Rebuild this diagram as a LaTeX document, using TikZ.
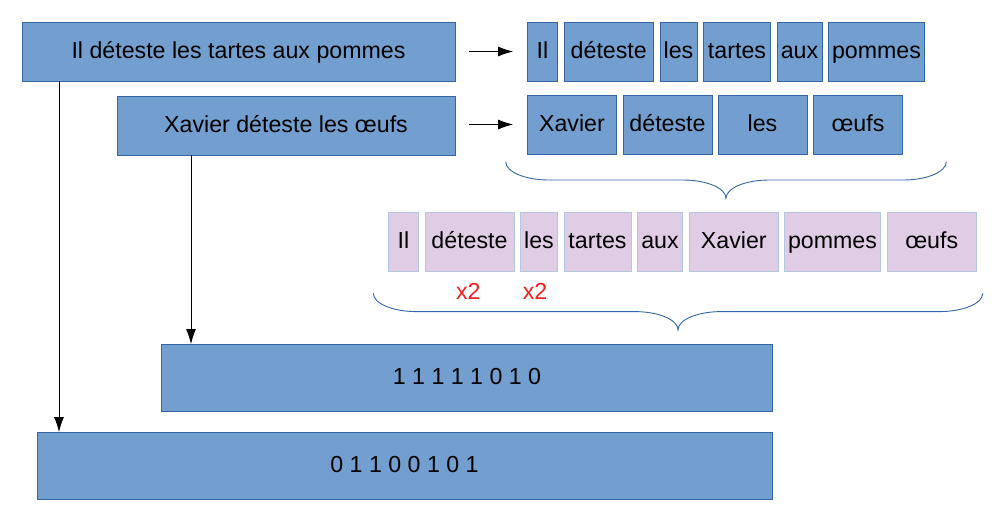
\documentclass[tikz,border=0pt]{standalone}
\usepackage{fontspec}
\setmainfont{Liberation Sans}
\usetikzlibrary{arrows.meta}
\definecolor{boxblue}{HTML}{729FCF}
\definecolor{boxedge}{HTML}{3465A4}
\definecolor{lilac}{HTML}{E0CCE5}
\definecolor{lilacedge}{HTML}{B4C7DC}
\definecolor{xred}{HTML}{F02020}
\tikzset{
  base/.style={anchor=north west, inner sep=0pt, outer sep=0pt, minimum height=59pt,
    text height=17pt, text depth=4pt,
    font=\fontsize{23.2}{27}\selectfont, text=black},
  bluebox/.style={base, draw=boxedge, fill=boxblue, line width=0.8pt},
  lilacbox/.style={base, draw=lilacedge, fill=lilac, line width=0.8pt},
  arr/.style={draw=black, line width=0.8pt, -{Latex[length=15pt,width=10pt]}},
  bracestyle/.style={draw=boxedge, line width=0.9pt},
  redlabel/.style={font=\fontsize{23.2}{27}\selectfont, text=xred, inner sep=0pt}
}
\begin{document}
\begin{tikzpicture}[x=1pt,y=-1pt]
\useasboundingbox (0,0) rectangle (994,512);
% sentences
\node[bluebox, minimum width=433pt] (s1) at (22,22) {Il déteste les tartes aux pommes};
\node[bluebox, minimum width=338pt] (s2) at (117,96) {Xavier déteste les œufs};
% row 1 words
\node[bluebox, minimum width=30pt] (a1) at (527.5,22) {Il};
\node[bluebox, minimum width=88.5pt] (a2) at (564.5,22) {déteste};
\node[bluebox, minimum width=37pt] (a3) at (660,22) {les};
\node[bluebox, minimum width=67pt] (a4) at (703.5,22) {tartes};
\node[bluebox, minimum width=45pt] (a5) at (777,22) {aux};
\node[bluebox, minimum width=96pt] (a6) at (828.5,22) {pommes};
% row 2 words
\node[bluebox, minimum width=89pt] (b1) at (527.5,95.5) {Xavier};
\node[bluebox, minimum width=89pt] (b2) at (623,95.5) {déteste};
\node[bluebox, minimum width=89pt] (b3) at (718,95.5) {les};
\node[bluebox, minimum width=89pt] (b4) at (813.5,95.5) {œufs};
% vocabulary
\node[lilacbox, minimum width=30pt] (c1) at (388.5,212.5) {Il};
\node[lilacbox, minimum width=89pt] (c2) at (425,212.5) {déteste};
\node[lilacbox, minimum width=37pt] (c3) at (520.5,212.5) {les};
\node[lilacbox, minimum width=67pt] (c4) at (564,212.5) {tartes};
\node[lilacbox, minimum width=45pt] (c5) at (637.5,212.5) {aux};
\node[lilacbox, minimum width=88.5pt] (c6) at (689.5,212.5) {Xavier};
\node[lilacbox, minimum width=96pt] (c7) at (784.5,212.5) {pommes};
\node[lilacbox, minimum width=88.5pt] (c8) at (887.5,212.5) {œufs};
\node[redlabel] (x2a) at (468.3,291) {x2};
\node[redlabel] (x2b) at (535,291) {x2};
% vectors
\node[bluebox, minimum width=611pt, minimum height=67pt] (v1) at (161.5,344) {1 1 1 1 1 0 1 0};
\node[bluebox, minimum width=735pt, minimum height=67pt] (v2) at (37,432) {0 1 1 0 0 1 0 1};
% arrows
\coordinate (h1s) at (469,51.5);
\coordinate (h1e) at (513,51.5);
\coordinate (h2s) at (469,124.5);
\coordinate (h2e) at (513,124.5);
\draw[arr] (h1s) -- (h1e);
\draw[arr] (h2s) -- (h2e);
\coordinate (p1) at (59,81);
\coordinate (p2) at (191,155);
\draw[arr] (p1) -- (p1 |- v2.north);
\draw[arr] (p2) -- (p2 |- v1.north);
% braces
\draw[bracestyle] (505.7,161.7) .. controls (505.7,171.8) and (525,180) .. (548.7,180)
  -- (683,180) .. controls (706.7,180) and (726,188.2) .. (726,198.3)
  .. controls (726,188.2) and (745.3,180) .. (769,180)
  -- (903.3,180) .. controls (927,180) and (946.3,171.8) .. (946.3,161.7);
\draw[bracestyle] (373.3,293.3) .. controls (373.3,303.4) and (392.6,311.6) .. (416.3,311.6)
  -- (635,311.6) .. controls (658.7,311.6) and (678,319.8) .. (678,329.9)
  .. controls (678,319.8) and (697.3,311.6) .. (721,311.6)
  -- (939.7,311.6) .. controls (963.4,311.6) and (982.7,303.4) .. (982.7,293.3);
\end{tikzpicture}
\end{document}
